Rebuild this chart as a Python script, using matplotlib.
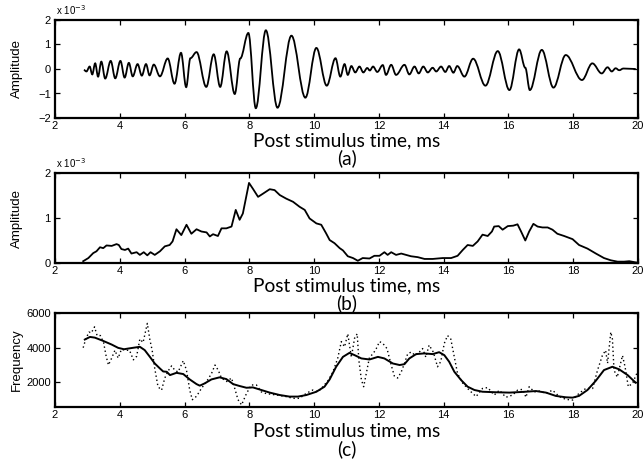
import matplotlib
matplotlib.use("Agg")
import matplotlib.pyplot as plt
from matplotlib.path import Path
from matplotlib.patches import PathPatch

# ---------------- data ----------------
# (a) waveform, extrema of the signal (time ms, amplitude x 1e-3)
wave_t = [2.89, 2.97, 3.07, 3.15, 3.24, 3.33, 3.43, 3.55, 3.72, 3.86, 4.02, 4.15,
          4.28, 4.40, 4.55, 4.68, 4.81, 4.92, 5.05, 5.24, 5.48, 5.69, 5.89, 6.05,
          6.18, 6.37, 6.67, 6.90, 7.10, 7.30, 7.55, 7.72, 7.97, 8.20, 8.51, 8.87,
          9.30, 9.73, 10.07, 10.39, 10.66, 10.81, 10.94, 11.04, 11.15, 11.27, 11.40,
          11.52, 11.64, 11.72, 11.82, 11.95, 12.12, 12.22, 12.38, 12.53, 12.79, 12.94,
          13.10, 13.23, 13.37, 13.51, 13.66, 13.77, 13.92, 14.05, 14.17, 14.30, 14.42,
          14.64, 14.91, 15.29, 15.67, 16.03, 16.33, 16.52, 16.66, 17.03, 17.39, 17.77,
          18.27, 18.59, 18.88, 19.06, 19.19, 19.31, 19.42, 19.55, 19.93]
wave_v = [-0.04, -0.10, 0.10, -0.22, 0.23, -0.31, 0.30, -0.39, 0.33, -0.38, 0.33, -0.35,
          0.25, -0.30, 0.20, -0.27, 0.20, -0.26, 0.18, -0.30, 0.43, -0.60, 0.66, -0.74,
          0.44, 0.69, -0.73, 0.60, -0.73, 0.72, -1.02, 0.43, 1.47, -1.60, 1.58, -1.58,
          1.36, -1.17, 0.86, -0.68, 0.44, -0.31, 0.20, -0.24, 0.12, -0.14, 0.10,
          -0.14, 0.04, -0.06, 0.10, -0.12, 0.16, -0.24, 0.17, -0.24, 0.17, -0.22,
          0.10, -0.18, 0.10, -0.14, 0.05, -0.10, 0.10, -0.12, 0.12, -0.15, 0.12,
          -0.31, 0.42, -0.68, 0.73, -0.86, 0.80, 0.05, -0.86, 0.78, -0.76, 0.57,
          -0.45, 0.23, -0.18, 0.07, -0.10, 0.03, -0.05, 0.02, 0.00]

# (b) envelope (x 1e-3)
env_t = [2.87, 3.03, 3.18, 3.28, 3.39, 3.49, 3.59, 3.75, 3.90, 3.97, 4.05, 4.16, 4.26,
         4.36, 4.52, 4.62, 4.74, 4.85, 4.95, 5.08, 5.24, 5.39, 5.54, 5.63, 5.75, 5.90,
         6.06, 6.21, 6.37, 6.52, 6.68, 6.78, 6.88, 7.03, 7.14, 7.29, 7.45, 7.58, 7.70,
         7.80, 7.99, 8.11, 8.27, 8.42, 8.63, 8.78, 8.94, 9.14, 9.35, 9.55, 9.71, 9.86,
         10.07, 10.22, 10.37, 10.48, 10.63, 10.79, 10.89, 11.04, 11.20, 11.35, 11.50,
         11.71, 11.86, 12.02, 12.17, 12.27, 12.38, 12.53, 12.69, 12.84, 12.99, 13.20,
         13.41, 13.66, 13.97, 14.23, 14.43, 14.59, 14.74, 14.90, 15.05, 15.20, 15.36,
         15.49, 15.56, 15.70, 15.82, 15.98, 16.15, 16.28, 16.39, 16.52, 16.64, 16.77,
         16.90, 17.05, 17.21, 17.36, 17.51, 17.72, 17.98, 18.18, 18.44, 18.70, 18.95,
         19.16, 19.37, 19.57, 19.73, 19.88, 19.96]
env_v = [0.04, 0.11, 0.22, 0.26, 0.35, 0.33, 0.39, 0.38, 0.42, 0.40, 0.31, 0.29, 0.32,
         0.21, 0.24, 0.18, 0.24, 0.17, 0.24, 0.18, 0.26, 0.37, 0.40, 0.48, 0.75, 0.62,
         0.85, 0.65, 0.75, 0.70, 0.68, 0.59, 0.64, 0.60, 0.77, 0.77, 0.81, 1.18, 0.96,
         1.10, 1.78, 1.65, 1.47, 1.54, 1.64, 1.62, 1.51, 1.43, 1.36, 1.25, 1.18, 0.99,
         0.88, 0.85, 0.66, 0.51, 0.44, 0.33, 0.28, 0.15, 0.11, 0.05, 0.11,
         0.10, 0.16, 0.16, 0.24, 0.18, 0.24, 0.18, 0.21, 0.18, 0.15, 0.13,
         0.09, 0.09, 0.11, 0.11, 0.16, 0.29, 0.40, 0.38, 0.48, 0.63, 0.60,
         0.70, 0.81, 0.82, 0.74, 0.82, 0.83, 0.86, 0.70, 0.50, 0.70, 0.87,
         0.81, 0.79, 0.79, 0.74, 0.65, 0.60, 0.53, 0.40, 0.32, 0.21, 0.11,
         0.06, 0.03, 0.03, 0.04, 0.02, 0.01]

# (c) instantaneous frequency (dotted) and smoothed frequency (solid)
fr_t = [2.87, 2.95, 3.05, 3.12, 3.22, 3.30, 3.40, 3.50, 3.58, 3.65, 3.75, 3.85, 3.95,
        4.05, 4.20, 4.30, 4.42, 4.52, 4.62, 4.72, 4.85, 4.93, 5.00, 5.08, 5.18, 5.29,
        5.39, 5.49, 5.60, 5.70, 5.80, 5.96, 6.06, 6.16, 6.24, 6.37, 6.52, 6.68, 6.83,
        6.94, 7.04, 7.14, 7.30, 7.45, 7.55, 7.65, 7.76, 7.91, 8.06, 8.22, 8.37, 8.53,
        8.84, 9.14, 9.35, 9.55, 9.76, 9.96, 10.12, 10.27, 10.43, 10.58, 10.73, 10.84,
        10.94, 11.04, 11.15, 11.25, 11.33, 11.38, 11.46, 11.53, 11.61, 11.71, 11.82,
        11.92, 12.02, 12.12, 12.25, 12.38, 12.48, 12.58, 12.69, 12.79, 12.89, 13.00,
        13.12, 13.25, 13.35, 13.45, 13.55, 13.68, 13.81, 13.91, 14.02, 14.12, 14.22,
        14.33, 14.43, 14.59, 14.79, 15.00, 15.20, 15.36, 15.56, 15.72, 15.92, 16.13,
        16.28, 16.44, 16.54, 16.64, 16.80, 16.95, 17.16, 17.36, 17.57, 17.77, 17.98,
        18.18, 18.39, 18.60, 18.75, 18.90, 19.00, 19.06, 19.16, 19.21, 19.26, 19.36,
        19.52, 19.60, 19.70, 19.83, 19.96]
fr_v = [4000, 4500, 4900, 4850, 5200, 4700, 4700, 4300, 3500, 3000, 3400, 3850, 3400,
        3900, 3850, 3850, 3300, 3500, 4500, 4300, 5400, 4450, 3850, 2800, 1750, 1550,
        2250, 2650, 2950, 2700, 2600, 3250, 2700, 1550, 1000, 1200, 1650, 2050, 2500,
        3000, 2700, 2250, 2050, 2250, 1650, 1000, 700, 1350, 1850, 1850, 1450, 1350,
        1270, 1180, 1080, 1080, 1370, 1560, 1450, 1750, 2100, 2600, 3400, 4350,
        4050, 4800, 3450, 4550, 4800, 3300, 2150, 1750, 2500, 3450, 3650,
        3950, 4350, 4250, 3950, 3000, 2350, 2250, 2600, 3100, 3650, 3750,
        3550, 3750, 3950, 3450, 4150, 3750, 2900, 3200, 4250, 4700, 4500,
        3450, 2500, 1950, 1550, 1180, 1650, 1700, 1270, 1550, 1140, 1270,
        1550, 1600, 1140, 1750, 1450, 1500, 1370, 1550, 1180, 1020, 980,
        1370, 1650, 1650, 2700, 3550, 3850, 3100, 4900, 4500, 2700, 2300,
        3550, 2900, 1750, 1950, 2500]

sm_t = [2.92, 3.08, 3.23, 3.49, 3.75, 3.95, 4.13, 4.26, 4.47, 4.62, 4.77, 4.93, 5.08,
        5.24, 5.34, 5.45, 5.55, 5.75, 5.96, 6.16, 6.37, 6.47, 6.62, 6.83, 7.08, 7.29,
        7.50, 7.70, 7.91, 8.11, 8.37, 8.63, 8.94, 9.24, 9.50, 9.76, 10.07, 10.32,
        10.48, 10.68, 10.89, 11.09, 11.25, 11.46, 11.71, 11.97, 12.17, 12.43, 12.64,
        12.79, 12.94, 13.15, 13.40, 13.66, 13.86, 14.02, 14.17, 14.33, 14.54, 14.74,
        14.95, 15.20, 15.61, 16.03, 16.44, 16.85, 17.16, 17.46, 17.77, 17.98, 18.18,
        18.44, 18.70, 18.95, 19.21, 19.42, 19.68, 19.93]
sm_v = [4470, 4620, 4580, 4390, 4180, 3990, 3910, 3950, 4010, 4050, 3860, 3470, 3090,
        2800, 2630, 2610, 2420, 2550, 2480, 2170, 1900, 1810, 1940, 2170, 2290, 2190,
        1900, 1790, 1690, 1710, 1560, 1410, 1270, 1180, 1180, 1270, 1460, 1750,
        2170, 2900, 3470, 3700, 3570, 3380, 3320, 3470, 3380, 3090, 3000,
        3050, 3380, 3630, 3670, 3630, 3740, 3570, 3190, 2610, 2130, 1750,
        1560, 1460, 1430, 1410, 1450, 1500, 1410, 1220, 1140, 1120, 1220,
        1560, 2100, 2710, 2900, 2750, 2420, 1980]

x_ticks = [2, 4, 6, 8, 10, 12, 14, 16, 18, 20]
xlabel_text = "Post stimulus time, ms"
panel_tags = ["(a)", "(b)", "(c)"]

# ---------------- figure ----------------
W, H = 643, 465
fig = plt.figure(figsize=(W / 100, H / 100), dpi=100)

TICK_FONT = "Liberation Sans"
LABEL_FONT = "Lato"
AX_L, AX_R = 55, 638


def px_axes(left, top, right, bottom):
    return fig.add_axes([left / W, 1 - bottom / H, (right - left) / W, (bottom - top) / H])


def style(ax, yticks, ylim, ylabel):
    ax.set_xlim(2, 20)
    ax.set_ylim(*ylim)
    ax.set_xticks(x_ticks)
    ax.set_yticks(yticks)
    ax.tick_params(direction="in", length=3.5, width=0.9, top=True, right=True,
                   labelsize=8, pad=2.5)
    ax.tick_params(axis="y", pad=3)
    for lab in ax.get_xticklabels() + ax.get_yticklabels():
        lab.set_family(TICK_FONT)
    for sp in ax.spines.values():
        sp.set_linewidth(1.6)
    ax.set_ylabel(ylabel, family=TICK_FONT, fontsize=9.5)
    # right side of the rotated label at ~23 px from the figure's left edge
    ax.yaxis.set_label_coords((23 - AX_L) / (AX_R - AX_L), 0.5)


def xlabels(baseline1, baseline2, tag):
    cx = (AX_L + AX_R) / 2 / W
    fig.text(cx, 1 - baseline1 / H, xlabel_text, ha="center", va="baseline",
             family=LABEL_FONT, fontsize=13.8)
    fig.text(cx, 1 - baseline2 / H, tag, ha="center", va="baseline",
             family=LABEL_FONT, fontsize=13.8)


# ----- (a) -----
ax1 = px_axes(AX_L, 20, AX_R, 118)
verts = [(wave_t[0], wave_v[0])]
codes = [Path.MOVETO]
k = 0.36
for i in range(1, len(wave_t)):
    t0, v0 = wave_t[i - 1], wave_v[i - 1]
    t1, v1 = wave_t[i], wave_v[i]
    d = t1 - t0
    verts += [(t0 + k * d, v0), (t1 - k * d, v1), (t1, v1)]
    codes += [Path.CURVE4, Path.CURVE4, Path.CURVE4]
ax1.add_patch(PathPatch(Path(verts, codes), fill=False, lw=1.3, ec="black",
                        transform=ax1.transData))
style(ax1, [-2, -1, 0, 1, 2], (-2, 2), "Amplitude")
fig.text(56 / W, 1 - 15 / H, r"x 10$^{-3}$", family=TICK_FONT, fontsize=7,
         va="baseline", ha="left")
xlabels(146, 164, panel_tags[0])

# ----- (b) -----
ax2 = px_axes(AX_L, 173, AX_R, 263)
ax2.plot(env_t, env_v, color="black", lw=1.3)
style(ax2, [0, 1, 2], (0, 2), "Amplitude")
fig.text(56 / W, 1 - 168 / H, r"x 10$^{-3}$", family=TICK_FONT, fontsize=7,
         va="baseline", ha="left")
xlabels(291, 309, panel_tags[1])

# ----- (c) -----
ax3 = px_axes(AX_L, 313, AX_R, 407)
ax3.plot(fr_t, fr_v, color="black", lw=1.0, linestyle=(0, (1, 2)))
ax3.plot(sm_t, sm_v, color="black", lw=1.4)
style(ax3, [2000, 4000, 6000], (580, 6000), "Frequency")
xlabels(436, 455, panel_tags[2])

fig.savefig("out.png", dpi=100)
